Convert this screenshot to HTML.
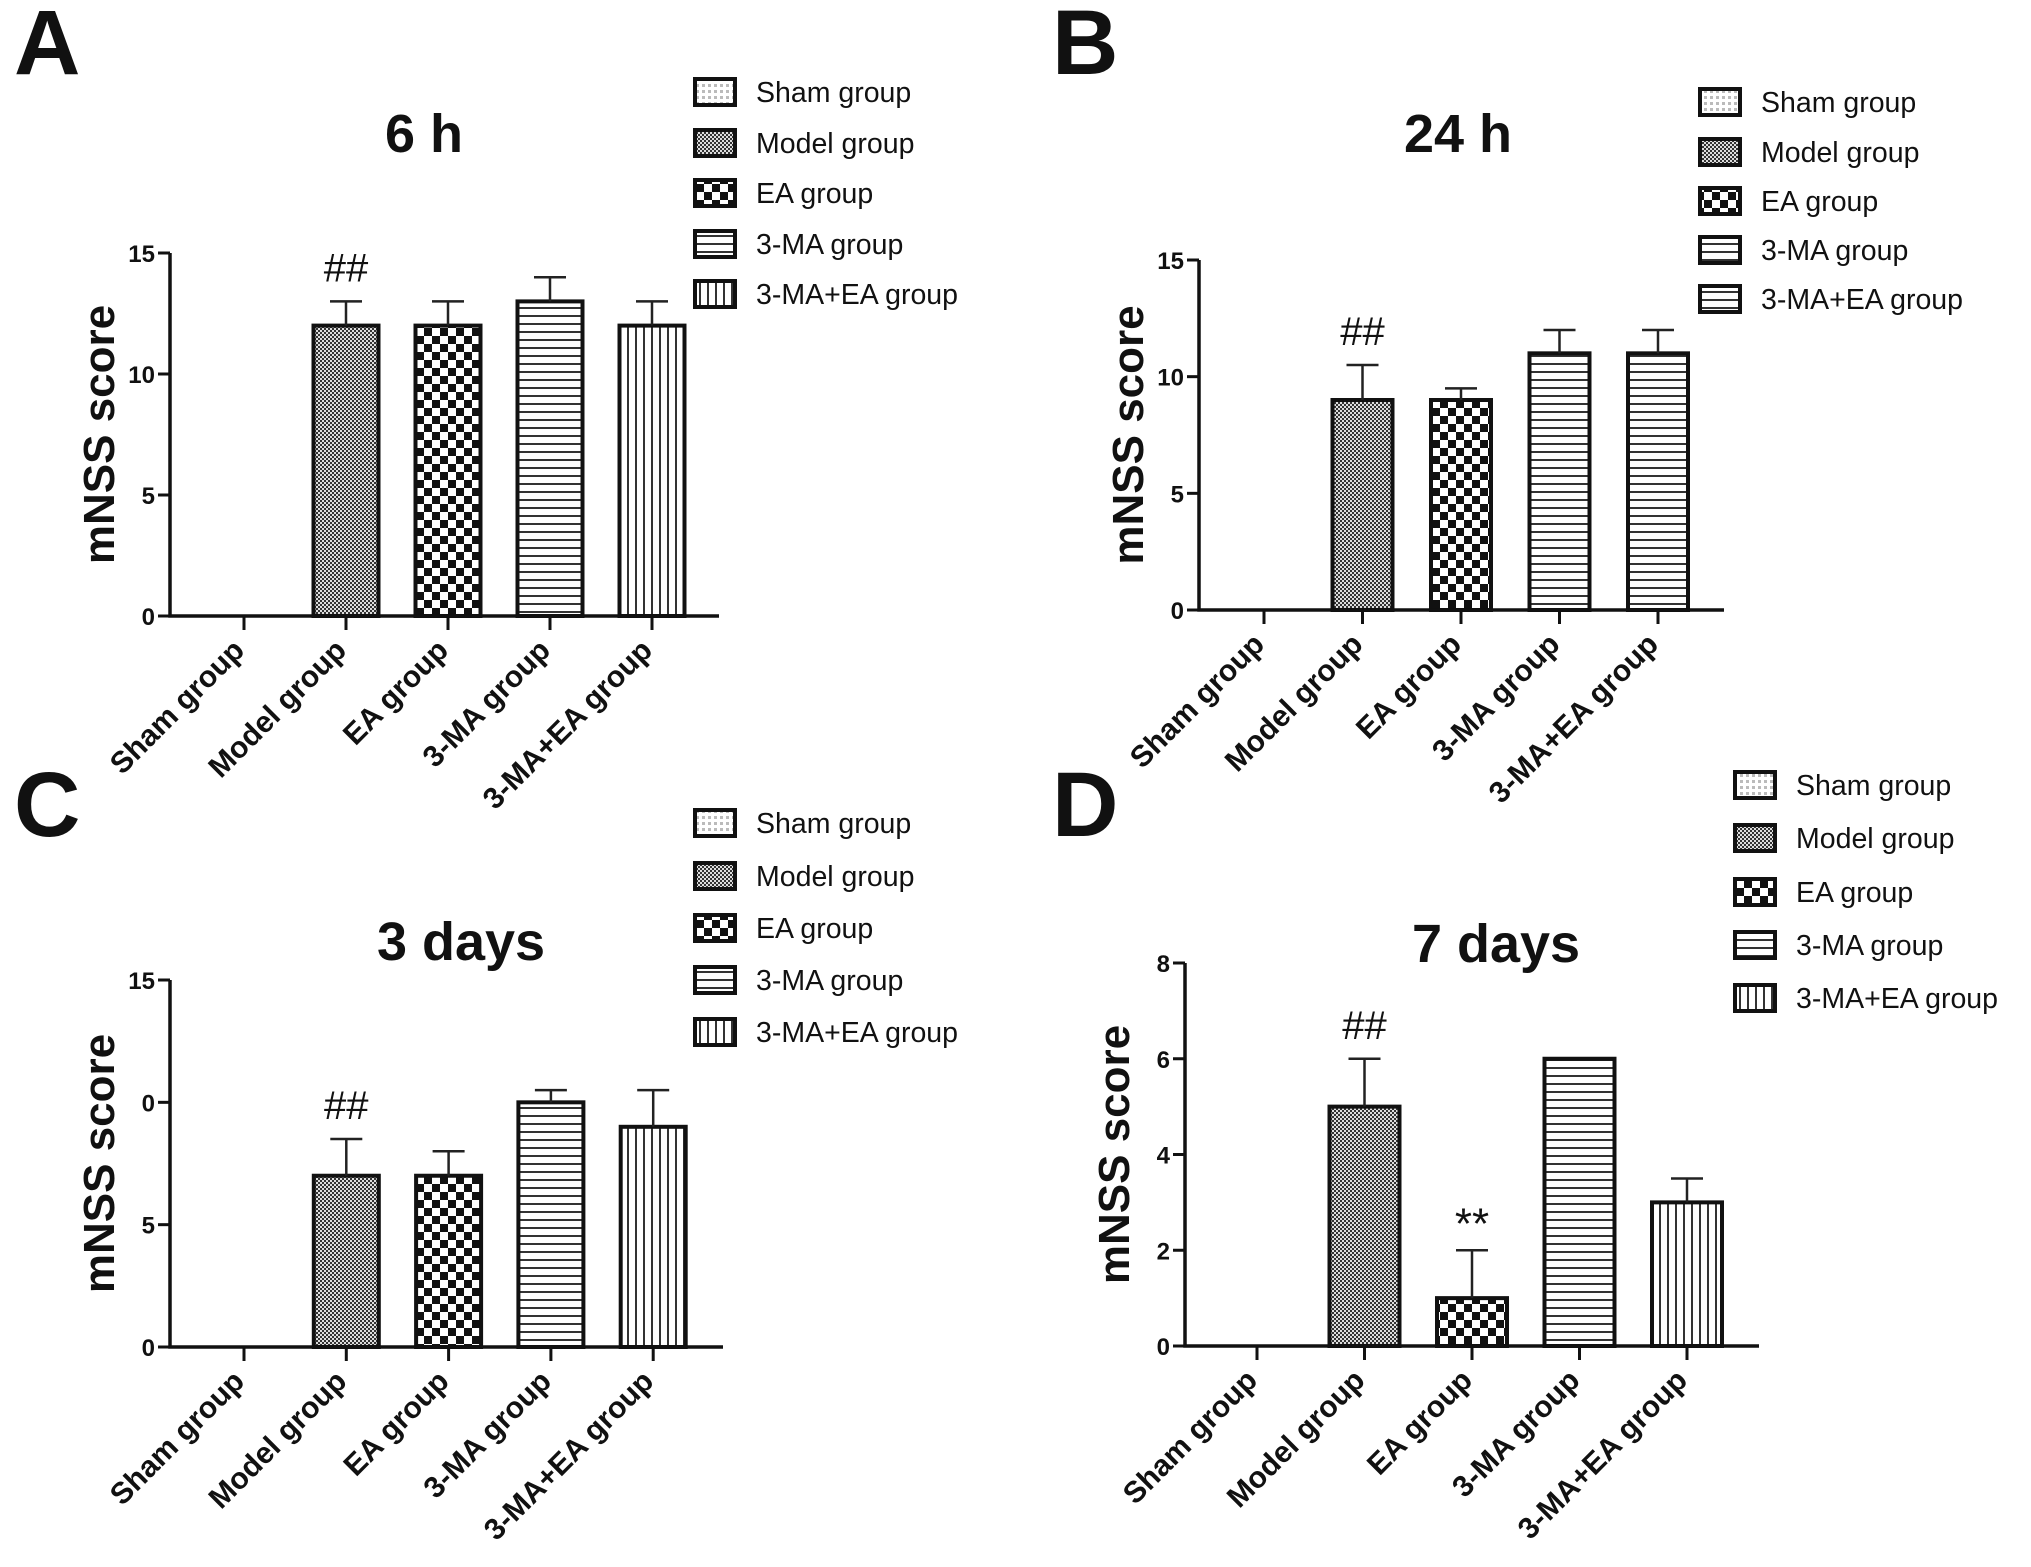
<!DOCTYPE html>
<html><head><meta charset="utf-8"><style>
html,body{margin:0;padding:0;background:#fff;}
svg{display:block;}
text{font-family:"Liberation Sans",sans-serif;fill:#111;}
.leg{font-family:"Liberation Sans Narrow","Liberation Sans",sans-serif;font-size:28.5px;}
</style></head><body>
<svg id="fig" width="2031" height="1567" viewBox="0 0 2031 1567" xmlns="http://www.w3.org/2000/svg">
<defs>
<pattern id="p-sham" width="6" height="6" patternUnits="userSpaceOnUse"><rect width="6" height="6" fill="#fff"/><rect width="3" height="3" fill="#bbb"/></pattern>
<pattern id="p-model" width="4" height="4" patternUnits="userSpaceOnUse"><rect width="4" height="4" fill="#ddd"/><rect width="2" height="2" fill="#333"/><rect x="2" y="2" width="2" height="2" fill="#333"/></pattern>
<pattern id="p-ea" width="16" height="16" patternUnits="userSpaceOnUse"><rect width="16" height="16" fill="#fff"/><rect width="8" height="8" fill="#111"/><rect x="8" y="8" width="8" height="8" fill="#111"/></pattern>
<pattern id="p-h" width="8" height="8" patternUnits="userSpaceOnUse"><rect width="8" height="8" fill="#fff"/><rect y="3" width="8" height="2" fill="#333"/></pattern>
<pattern id="p-v" width="8" height="8" patternUnits="userSpaceOnUse"><rect width="8" height="8" fill="#fff"/><rect x="3" width="2" height="8" fill="#333"/></pattern>
</defs>
</svg>
<script>
const categories = ["Sham group","Model group","EA group","3-MA group","3-MA+EA group"];
const valuesA = [0,12,12,13,12];
const errorsA = [0,1,1,1,1];
const valuesB = [0,9,9,11,11];
const errorsB = [0,1.5,0.5,1,1];
const valuesC = [0,7,7,10,9];
const errorsC = [0,1.5,1,0.5,1.5];
const valuesD = [0,5,1,6,3];
const errorsD = [0,1,1,0,0.5];
const ticksA = [0,5,10,15];
const tickLabelsA = ["0","5","10","15"];
const ticksB = [0,5,10,15];
const tickLabelsB = ["0","5","10","15"];
const ticksC = [0,5,10,15];
const tickLabelsC = ["0","5","0","15"];
const ticksD = [0,2,4,6,8];
const tickLabelsD = ["0","2","4","6","8"];
const marksA = ["","##","","",""];
const marksB = ["","##","","",""];
const marksC = ["","##","","",""];
const marksD = ["","##","**","",""];
const fillsA = ["p-sham","p-model","p-ea","p-h","p-v"];
const fillsB = ["p-sham","p-model","p-ea","p-h","p-h"];

const svg = document.getElementById('fig');
const NS = 'http://www.w3.org/2000/svg';
function mk(tag, attrs, parent){const e=document.createElementNS(NS,tag);for(const k in attrs)e.setAttribute(k,attrs[k]);(parent||svg).appendChild(e);return e;}

const panels = [
 {id:'a',letter:'A',lx:14,ly:74,title:'6 h',tx:424,ty:152,x0:170,x1:719,y0:616,yTop:253,ymax:15,c0:244,step:102,bw:65,vals:valuesA,errs:errorsA,ticks:ticksA,tl:tickLabelsA,marks:marksA,fills:fillsA,legX:693,legY:[92,143,193,244,294],legFills:fillsA},
 {id:'b',letter:'B',lx:1052,ly:74,title:'24 h',tx:1458,ty:152,x0:1199,x1:1724,y0:610,yTop:260,ymax:15,c0:1264,step:98.5,bw:60,vals:valuesB,errs:errorsB,ticks:ticksB,tl:tickLabelsB,marks:marksB,fills:fillsB,legX:1698,legY:[102,152,201,250,299],legFills:fillsB},
 {id:'c',letter:'C',lx:14,ly:836,title:'3 days',tx:461,ty:960,x0:170,x1:723,y0:1347,yTop:980,ymax:15,c0:244,step:102.3,bw:65,vals:valuesC,errs:errorsC,ticks:ticksC,tl:tickLabelsC,marks:marksC,fills:fillsA,legX:693,legY:[823,876,928,980,1032],legFills:fillsA},
 {id:'d',letter:'D',lx:1052,ly:836,title:'7 days',tx:1496,ty:962,x0:1185,x1:1759,y0:1346,yTop:963,ymax:8,c0:1257,step:107.5,bw:70,vals:valuesD,errs:errorsD,ticks:ticksD,tl:tickLabelsD,marks:marksD,fills:fillsA,legX:1733,legY:[785,838,892,945,998],legFills:fillsA}
];

panels.forEach(p=>{
 const g = mk('g',{});
 
 
 const yS = v => p.y0 - (v/p.ymax)*(p.y0-p.yTop);
 const xS = i => p.c0 + i*p.step;
 const L = mk('text',{x:p.lx,y:p.ly,'font-size':92,'font-weight':'bold'},g); L.textContent=p.letter;
 
 
 const T = mk('text',{x:p.tx,y:p.ty,'font-size':54,'font-weight':'bold','text-anchor':'middle'},g); T.textContent=p.title;
 
 
 p.vals.forEach((v,i)=>{
  const cx=xS(i), top=yS(v);
  if(v>0){
   const r=mk('rect',{x:cx-p.bw/2,y:top,width:p.bw,height:p.y0-top,fill:'url(#'+p.fills[i]+')',stroke:'#111','stroke-width':4},g);
   
   
  }
  const e=p.errs[i];
  if(e>0){
   const et=yS(v+e);
   const l=mk('path',{d:`M${cx},${top} V${et} M${cx-16},${et} H${cx+16}`,stroke:'#222','stroke-width':2.5,fill:'none'},g);
   
   
  }
  if(p.marks[i]){
   const isStar=p.marks[i]==='**';
   const m=mk('text',{x:cx,y:yS(v+e)-(isStar?12:20),'font-size':isStar?44:40,'text-anchor':'middle','font-family':isStar?'"Liberation Serif",serif':'"Liberation Sans",sans-serif'},g);
   m.textContent=p.marks[i];
   
   
  }
  const tk=mk('line',{x1:cx,y1:p.y0,x2:cx,y2:p.y0+14,stroke:'#111','stroke-width':3},g);
  
  
  const xl=mk('text',{x:0,y:0,'font-size':30,'font-weight':'bold','text-anchor':'end',transform:`translate(${cx+2},${p.y0+36}) rotate(-45)`},g);
  xl.textContent=categories[i];
  
  
 });
 const ax=mk('path',{d:`M${p.x0},${p.yTop} V${p.y0} H${p.x1}`,stroke:'#111','stroke-width':3.5,fill:'none'},g);
 
 
 p.ticks.forEach((t,k)=>{
  const y=yS(t);
  const tl=mk('line',{x1:p.x0-12,y1:y,x2:p.x0,y2:y,stroke:'#111','stroke-width':3},g);
  
  
  const tx=mk('text',{x:p.x0-15,y:y+9,'font-size':24,'font-weight':'bold','text-anchor':'end'},g);
  tx.textContent=p.tl[k];
  
  
 });
 const yt=mk('text',{x:0,y:0,'font-size':44,'font-weight':'bold','text-anchor':'middle',transform:`translate(${p.x0-56},${(p.y0+p.yTop)/2}) rotate(-90)`},g);
 yt.textContent='mNSS  score';
 
 
 categories.forEach((c,i)=>{
  const y=p.legY[i];
  const lg=mk('g',{},g);
  
  
  mk('rect',{x:p.legX+2,y:y-13,width:40,height:26,fill:'url(#'+p.legFills[i]+')',stroke:'#111','stroke-width':4},lg);
  const t=mk('text',{x:p.legX+63,y:y+10,class:'leg'},lg);
  t.textContent=c;
 });
});
</script>
</body></html>
